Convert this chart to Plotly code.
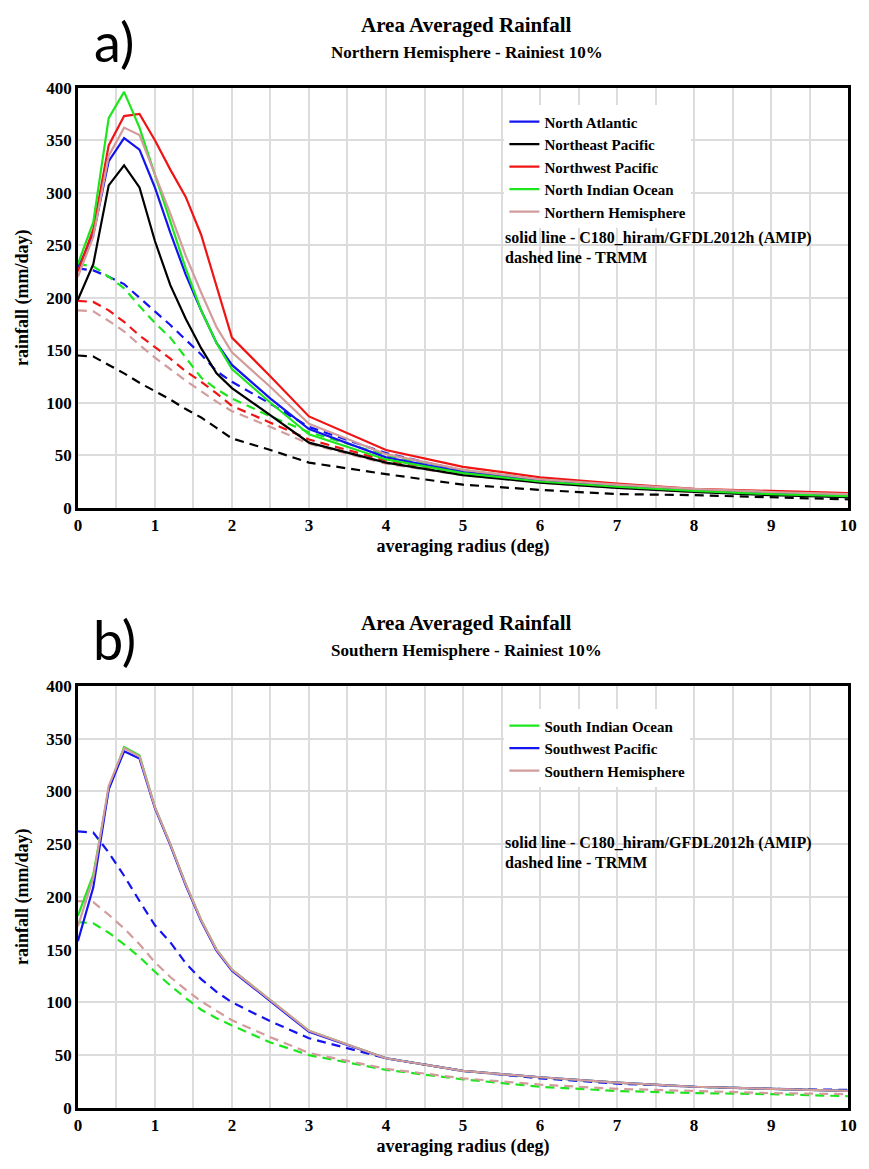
import plotly.graph_objects as go

# ---------------- data ----------------
radius = [0, 0.2, 0.4, 0.6, 0.8, 1.0, 1.2, 1.4, 1.6, 1.8, 2.0, 2.5, 3, 4, 5, 6, 7, 8, 9, 10]

# Panel a) Northern Hemisphere - model (solid)
na_model = [228, 260, 330, 352, 341, 305, 262, 222, 188, 157, 136, 104, 75, 48, 34, 26, 20, 16, 13, 11]
nep_model = [198, 232, 307, 326, 305, 254, 212, 180, 152, 128, 114, 88, 62, 43, 31, 24, 19, 15, 12, 10]
nwp_model = [225, 265, 345, 373, 375, 350, 322, 296, 260, 212, 162, 125, 87, 55, 39, 29, 23, 18, 16, 14]
nio_model = [232, 272, 371, 396, 362, 318, 272, 228, 188, 157, 132, 100, 70, 46, 33, 25, 20, 16, 13, 11]
nh_model = [220, 258, 335, 362, 355, 318, 280, 240, 205, 172, 148, 115, 80, 51, 36, 27, 22, 18, 15, 13]

# Panel a) Northern Hemisphere - TRMM (dashed)
na_trmm = [228, 226, 220, 213, 200, 187, 174, 160, 146, 130, 120, 99, 77, 52, 35, 26, 21, 16, 13, 10]
nep_trmm = [145, 144, 136, 128, 119, 111, 103, 94, 86, 76, 66, 55, 43, 32, 22, 17, 13, 12, 10, 8]
nwp_trmm = [197, 196, 188, 177, 164, 153, 142, 130, 120, 109, 97, 81, 65, 45, 33, 25, 20, 16, 13, 11]
nio_trmm = [232, 230, 220, 209, 192, 176, 162, 143, 124, 113, 104, 87, 72, 50, 36, 27, 21, 17, 14, 11]
nh_trmm = [188, 187, 178, 168, 155, 143, 132, 121, 111, 101, 92, 77, 61, 42, 31, 24, 19, 15, 13, 11]

# Panel b) Southern Hemisphere - model (solid)
sio_model = [182, 221, 302, 342, 334, 285, 250, 212, 178, 150, 131, 102, 73, 47, 35, 29, 24, 20, 18, 16]
swp_model = [158, 209, 302, 338, 331, 284, 249, 211, 177, 149, 130, 101, 72, 47, 35, 29, 24, 20, 18, 16]
sh_model = [172, 218, 305, 341, 333, 285, 250, 212, 178, 150, 131, 102, 73, 47, 35, 29, 24, 20, 18, 16]

# Panel b) Southern Hemisphere - TRMM (dashed)
sio_trmm = [176, 175, 166, 155, 143, 129, 116, 104, 93, 85, 78, 62, 50, 36, 27, 20, 16, 14, 13, 11]
swp_trmm = [262, 261, 242, 220, 196, 173, 157, 137, 122, 110, 100, 82, 66, 47, 35, 28, 23, 20, 18, 17]
sh_trmm = [196, 195, 183, 170, 155, 138, 124, 112, 101, 92, 83, 67, 52, 37, 28, 22, 18, 16, 14, 13]

panel_a = [
    ("North Atlantic", "#1414f0", na_model, na_trmm),
    ("Northeast Pacific", "#000000", nep_model, nep_trmm),
    ("Northwest Pacific", "#f01414", nwp_model, nwp_trmm),
    ("North Indian Ocean", "#1ee61e", nio_model, nio_trmm),
    ("Northern Hemisphere", "#d29c9c", nh_model, nh_trmm),
]
panel_b = [
    ("South Indian Ocean", "#1ee61e", sio_model, sio_trmm),
    ("Southwest Pacific", "#1414f0", swp_model, swp_trmm),
    ("Southern Hemisphere", "#d29c9c", sh_model, sh_trmm),
]

x_ticks = list(range(0, 11))
y_ticks = list(range(0, 401, 50))

# ---------------- figure ----------------
W, H = 869, 1169
SERIF = "Liberation Serif"
fig = go.Figure()

def add_panel(series, xa, ya, legend):
    for name, color, model, trmm in series:
        fig.add_trace(go.Scatter(x=radius, y=trmm, mode="lines", xaxis=xa, yaxis=ya,
                                 line=dict(color=color, width=2.2, dash="9px,6px"),
                                 showlegend=False, hoverinfo="skip"))
    for name, color, model, trmm in series:
        fig.add_trace(go.Scatter(x=radius, y=model, mode="lines", name=name, xaxis=xa, yaxis=ya,
                                 line=dict(color=color, width=2.2), legend=legend))

add_panel(panel_a, "x", "y", "legend")
add_panel(panel_b, "x2", "y2", "legend2")

def py(px):
    return 1 - px / H

def px_x(px):
    return px / W

x_dom = [px_x(75), px_x(857)]
ya_dom = [py(507), py(80)]
yb_dom = [py(1117), py(688)]

axis_common = dict(
    showline=True, mirror=True, linecolor="black", linewidth=2.5,
    showgrid=True, gridcolor="#dcdcdc", gridwidth=2,
    zeroline=False, ticks="",
    tickfont=dict(family=SERIF, size=17, color="black", weight="bold"),
)

xaxis_cfg = dict(axis_common, range=[0, 10], tickvals=x_ticks,
                 minor=dict(dtick=0.5, showgrid=True, gridcolor="#dcdcdc", gridwidth=2),
                 title=dict(text="averaging radius (deg)", standoff=6,
                            font=dict(family=SERIF, size=18, color="black", weight="bold")))
yaxis_cfg = dict(axis_common, range=[0, 400], tickvals=y_ticks,
                 title=dict(text="rainfall (mm/day)", standoff=13,
                            font=dict(family=SERIF, size=18, color="black", weight="bold")))

legend_font = dict(family=SERIF, size=15, color="black", weight="bold")
fig.update_layout(
    width=W, height=H, margin=dict(l=0, r=0, t=0, b=0),
    paper_bgcolor="white", plot_bgcolor="white",
    xaxis=dict(xaxis_cfg, domain=x_dom, anchor="y"),
    yaxis=dict(yaxis_cfg, domain=ya_dom, anchor="x"),
    xaxis2=dict(xaxis_cfg, domain=x_dom, anchor="y2"),
    yaxis2=dict(yaxis_cfg, domain=yb_dom, anchor="x2"),
    legend=dict(x=px_x(508), y=py(98), xanchor="left", yanchor="top",
                bgcolor="white", borderwidth=0, tracegroupgap=0, itemwidth=30,
                font=legend_font),
    legend2=dict(x=px_x(508), y=py(712), xanchor="left", yanchor="top",
                 bgcolor="white", borderwidth=0, tracegroupgap=0, itemwidth=30,
                 font=legend_font),
)

ann = []
def txt(x, y, s, size, weight="bold", family=SERIF, xanchor="center"):
    ann.append(dict(x=px_x(x), y=py(y), xref="paper", yref="paper", text=s, showarrow=False,
                    xanchor=xanchor, yanchor="middle",
                    font=dict(family=family, size=size, color="black", weight=weight)))

for top, letter, sub in [(80, "a)", "Northern Hemisphere - Rainiest 10%"),
                         (688, "b)", "Southern Hemisphere - Rainiest 10%")]:
    txt(112, top - 47, letter, 54, weight="normal", family="Lato")
    txt(470, top - 64, "Area Averaged Rainfall", 21)
    txt(470, top - 36, sub, 17)

txt(507, 233, "solid line - C180_hiram/GFDL2012h (AMIP)", 16, xanchor="left")
txt(507, 253, "dashed line - TRMM", 16, xanchor="left")
txt(507, 848, "solid line - C180_hiram/GFDL2012h (AMIP)", 16, xanchor="left")
txt(507, 868, "dashed line - TRMM", 16, xanchor="left")

fig.update_layout(annotations=ann)
fig.write_html("out.html", config={"displayModeBar": False},
               post_script="document.body.style.margin='0';document.body.style.overflow='hidden';")
